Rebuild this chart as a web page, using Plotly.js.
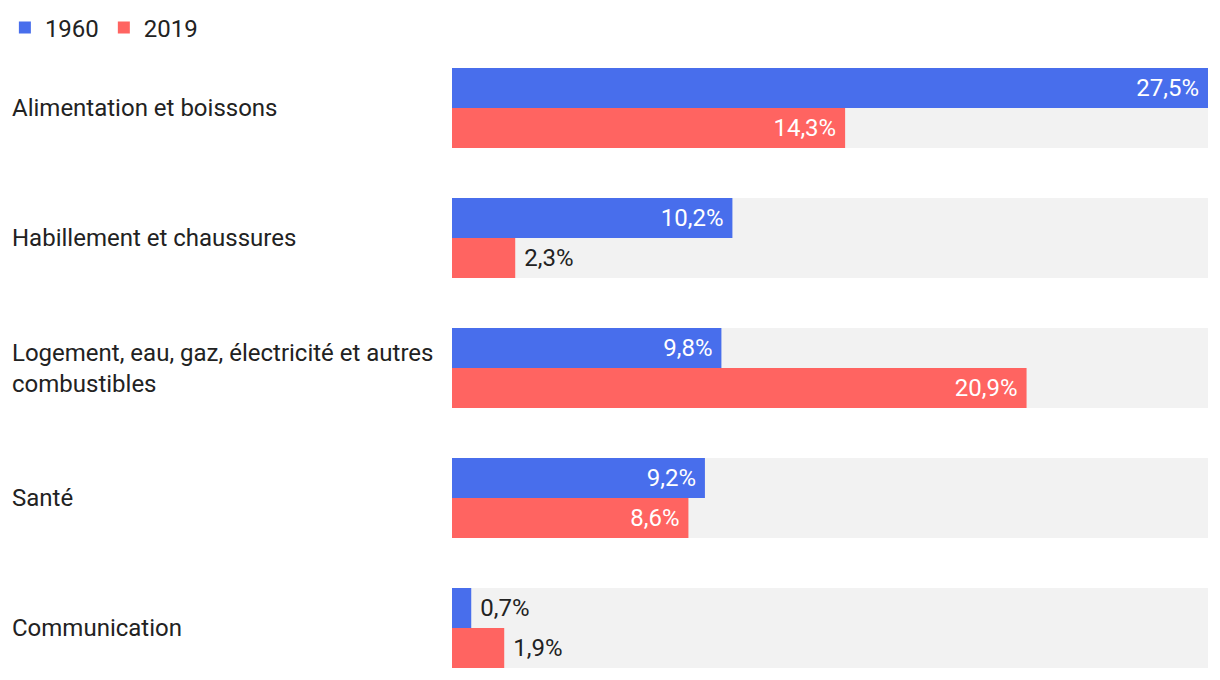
<!DOCTYPE html>
<html>
<head>
<meta charset="utf-8">
<script src="https://cdn.plot.ly/plotly-3.0.1.min.js"></script>
<style>html,body{margin:0;padding:0;background:#fff;}#chart{width:1220px;height:680px;}</style>
</head>
<body>
<div id="chart"></div>
<script>
const categories = [
  "Alimentation et boissons",
  "Habillement et chaussures",
  "Logement, eau, gaz, électricité et autres combustibles",
  "Santé",
  "Communication"
];
const categoryLabels = [
  "Alimentation et boissons",
  "Habillement et chaussures",
  "Logement, eau, gaz, électricité et autres<br>combustibles",
  "Santé",
  "Communication"
];
const values1960 = [27.5, 10.2, 9.8, 9.2, 0.7];
const values2019 = [14.3, 2.3, 20.9, 8.6, 1.9];
const maxValue = 27.5;

const fmt = v => v.toFixed(1).replace('.', ',') + '%';
const pos = v => v < 5 ? 'outside' : 'inside';
const txt = v => v < 5 ? '\u00a0' + fmt(v) : fmt(v) + '\u00a0';

const BW = 40 / 130;

const bg = {
  type: 'bar', orientation: 'h', y: categories, x: categories.map(() => maxValue),
  marker: {color: '#f2f2f2'}, width: 2 * BW, offset: -BW,
  hoverinfo: 'skip', showlegend: false
};
function series(name, vals, color, offset) {
  return {
    type: 'bar', orientation: 'h', name: name, y: categories, x: vals,
    marker: {color: color}, width: BW, offset: offset,
    text: vals.map(txt), textposition: vals.map(pos),
    insidetextanchor: 'end',
    insidetextfont: {family: 'Roboto', size: 24, color: '#ffffff'},
    outsidetextfont: {family: 'Roboto', size: 24, color: '#222222'},
    cliponaxis: false, constraintext: 'none'
  };
}
const data = [bg,
  series('1960', values1960, '#486eec', -BW),
  series('2019', values2019, '#ff6461', 0)
];

const annotations = categories.map((c, i) => ({
  xref: 'paper', yref: 'y', x: -(452 - 10) / 756, y: c,
  xanchor: 'left', yanchor: 'middle', align: 'left',
  text: categoryLabels[i], showarrow: false,
  font: {family: 'Roboto', size: 24, color: '#222222'}
}));

const layout = {
  width: 1220, height: 680,
  margin: {l: 452, r: 12, t: 43, b: 0, pad: 0, autoexpand: false},
  paper_bgcolor: '#ffffff', plot_bgcolor: '#ffffff',
  barmode: 'overlay',
  font: {family: 'Roboto', size: 24, color: '#222222'},
  xaxis: {range: [0, maxValue], visible: false, fixedrange: true},
  yaxis: {type: 'category', range: [4.4, -0.5], showticklabels: false,
          showgrid: false, zeroline: false, ticks: '', fixedrange: true},
  showlegend: true,
  legend: {orientation: 'h', xref: 'container', yref: 'container', x: 0.004, y: 0.992,
           xanchor: 'left', yanchor: 'top', font: {family: 'Roboto', size: 24, color: '#222222'},
           itemwidth: 30, traceorder: 'normal'},
  annotations: annotations
};
Plotly.newPlot('chart', data, layout, {displayModeBar: false, staticPlot: true});
</script>
</body>
</html>
